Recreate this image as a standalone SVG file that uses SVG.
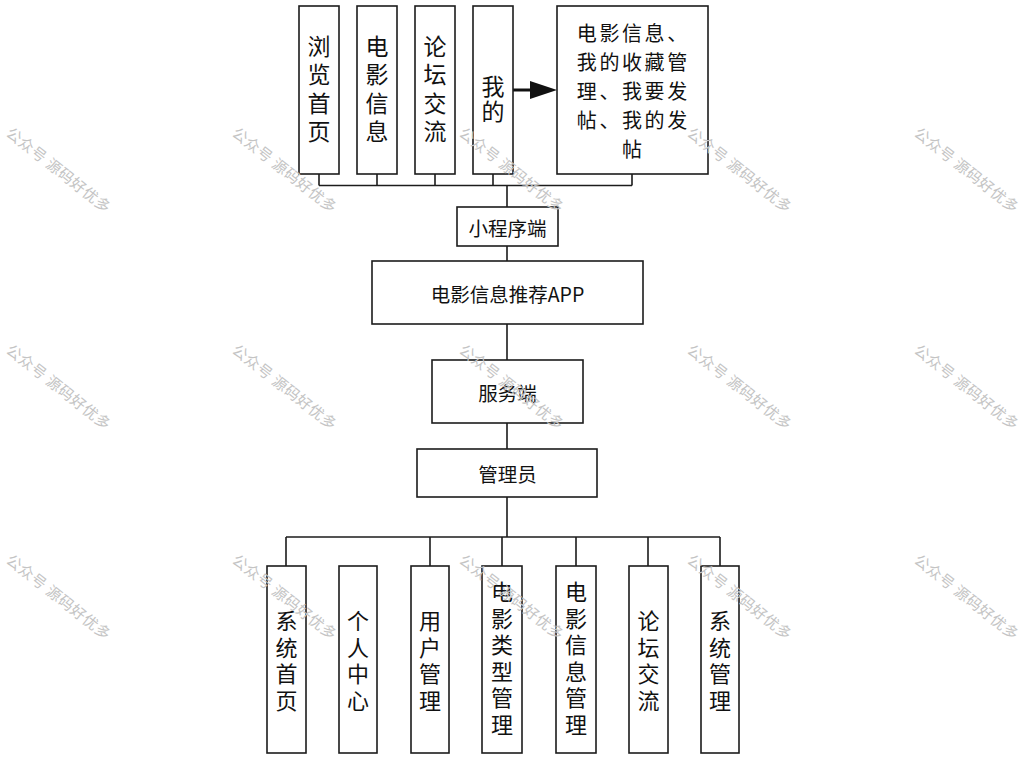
<svg xmlns="http://www.w3.org/2000/svg" width="1024" height="760" viewBox="0 0 1024 760">
<style>
.box{fill:#fff;stroke:#1c1c1c;stroke-width:1.6}
.ln{fill:none;stroke:#1c1c1c;stroke-width:1.6}
.t{font-family:"Noto Sans CJK SC","Noto Sans",sans-serif;fill:#111;text-anchor:middle;dominant-baseline:central}
.v{writing-mode:vertical-rl;text-orientation:upright}
.tt{font-size:23px}
.tv{font-size:23px;letter-spacing:5.5px}
.tp{font-size:20px;letter-spacing:2.6px}
.tm{font-size:19.5px}
.tb{font-size:22px;letter-spacing:4.5px}
.wm{font-family:"Noto Sans CJK SC","Noto Sans",sans-serif;font-size:15px;fill:#c4c4c4;letter-spacing:0.5px}
</style>
<rect width="1024" height="760" fill="#fff"/>
<g id="connectors">
<path class="ln" d="M319 174V185.5M377 174V185.5M435 174V185.5M493 174V185.5M632 174V185.5M319 185.5H632M507 185.5V207"/>
<path class="ln" d="M507 246V261M507 324V360M507 423V449M507 497V537"/>
<path class="ln" d="M286 537H720M286 537V566M430 537V566M502 537V566M576 537V566M648 537V566M720 537V566"/>
<line x1="513" y1="90" x2="532" y2="90" stroke="#111" stroke-width="3"/>
<polygon points="530,81 557,90 530,99" fill="#111"/>
</g>
<g id="n-browse"><rect class="box" x="299" y="6" width="40" height="168"/>
<text class="t v tv" x="319" y="91.5">浏览首页</text></g>
<g id="n-movieinfo"><rect class="box" x="357" y="6" width="40" height="168"/>
<text class="t v tv" x="377" y="91.5">电影信息</text></g>
<g id="n-forum"><rect class="box" x="415" y="6" width="40" height="168"/>
<text class="t v tv" x="435" y="91.5">论坛交流</text></g>
<g id="n-mine"><rect class="box" x="473" y="6" width="40" height="168"/>
<text class="t v tt" x="493" y="99.5" style="letter-spacing:2px">我的</text></g>
<g id="n-mine-detail"><rect class="box" x="557" y="6" width="151" height="168"/>
<text class="t tp" x="633.3" y="32"><tspan x="633.3" y="32">电影信息、</tspan><tspan x="633.3" y="61">我的收藏管</tspan><tspan x="633.3" y="90">理、我要发</tspan><tspan x="633.3" y="119">帖、我的发</tspan><tspan x="633.3" y="148">帖</tspan></text></g>
<g id="n-miniprogram"><rect class="box" x="457" y="207" width="101" height="39"/>
<text class="t tm" x="507.5" y="227">小程序端</text></g>
<g id="n-app"><rect class="box" x="372" y="261" width="271" height="63"/>
<text class="t tm" x="507.5" y="293">电影信息推荐APP</text></g>
<g id="n-server"><rect class="box" x="432" y="360" width="151" height="63"/>
<text class="t tm" x="507.5" y="392">服务端</text></g>
<g id="n-admin"><rect class="box" x="417" y="449" width="180" height="48"/>
<text class="t tm" x="507.5" y="473">管理员</text></g>
<g id="n-syshome"><rect class="box" x="267" y="566" width="39" height="187"/>
<text class="t v tb" x="286.5" y="663">系统首页</text></g>
<g id="n-personal"><rect class="box" x="339" y="566" width="38" height="187"/>
<text class="t v tb" x="358" y="663">个人中心</text></g>
<g id="n-user"><rect class="box" x="411" y="566" width="38" height="187"/>
<text class="t v tb" x="430" y="663">用户管理</text></g>
<g id="n-movietype"><rect class="box" x="482" y="566" width="40" height="187"/>
<text class="t v tb" x="502" y="660.5">电影类型管理</text></g>
<g id="n-movieinfo-mgmt"><rect class="box" x="556" y="566" width="40" height="187"/>
<text class="t v tb" x="576" y="660.5">电影信息管理</text></g>
<g id="n-forum-mgmt"><rect class="box" x="629" y="566" width="39" height="187"/>
<text class="t v tb" x="648.5" y="663">论坛交流</text></g>
<g id="n-sysmgmt"><rect class="box" x="701" y="566" width="38" height="187"/>
<text class="t v tb" x="720" y="663">系统管理</text></g>
<g id="watermarks">
<text class="wm" transform="translate(5 135) rotate(38)">公众号 源码好优多</text>
<text class="wm" transform="translate(231 135) rotate(38)">公众号 源码好优多</text>
<text class="wm" transform="translate(458 135) rotate(38)">公众号 源码好优多</text>
<text class="wm" transform="translate(686 135) rotate(38)">公众号 源码好优多</text>
<text class="wm" transform="translate(913 135) rotate(38)">公众号 源码好优多</text>
<text class="wm" transform="translate(5 352) rotate(38)">公众号 源码好优多</text>
<text class="wm" transform="translate(231 352) rotate(38)">公众号 源码好优多</text>
<text class="wm" transform="translate(458 352) rotate(38)">公众号 源码好优多</text>
<text class="wm" transform="translate(686 352) rotate(38)">公众号 源码好优多</text>
<text class="wm" transform="translate(913 352) rotate(38)">公众号 源码好优多</text>
<text class="wm" transform="translate(5 562) rotate(38)">公众号 源码好优多</text>
<text class="wm" transform="translate(231 562) rotate(38)">公众号 源码好优多</text>
<text class="wm" transform="translate(458 562) rotate(38)">公众号 源码好优多</text>
<text class="wm" transform="translate(686 562) rotate(38)">公众号 源码好优多</text>
<text class="wm" transform="translate(913 562) rotate(38)">公众号 源码好优多</text>
</g>
</svg>
